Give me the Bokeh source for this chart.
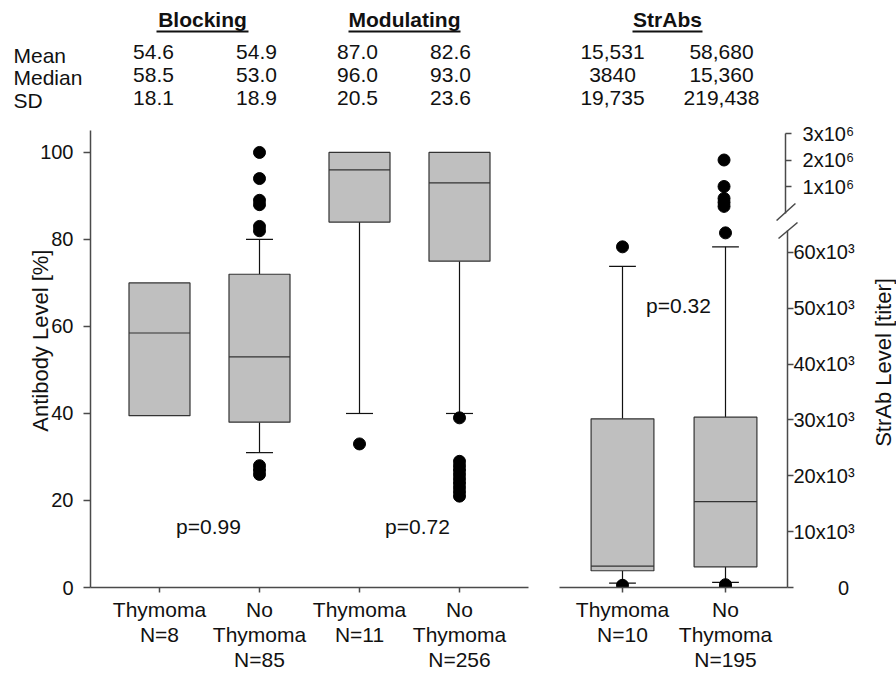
import math
from bokeh.plotting import figure
from bokeh.layouts import row, column
from bokeh.models import FixedTicker, Range1d
from bokeh.core.properties import value
from bokeh.embed import file_html
from bokeh.resources import INLINE

FONT = "Liberation Sans"
TEXT = "#111111"
AXIS = "#4a4a4a"
BOX_FILL = "#bfbfbf"
BOX_LINE = "#333333"

# ---------------- data ----------------
ab_labels = ["Thymoma\nN=8", "No\nThymoma\nN=85", "Thymoma\nN=11", "No\nThymoma\nN=256"]
ab_q1 = [39.5, 38.0, 84.0, 75.0]
ab_median = [58.5, 53.0, 96.0, 93.0]
ab_q3 = [70.0, 72.0, 100.0, 100.0]
ab_whisker_low = [None, 31.0, 40.0, 40.0]
ab_whisker_high = [None, 80.0, None, None]
ab_outlier_group = [2, 2, 2, 2, 2, 2, 2, 2, 2, 3, 4, 4, 4, 4, 4, 4, 4, 4, 4, 4]
ab_outlier_value = [100, 94, 89, 88, 83, 82, 28, 27, 26, 33,
                    39, 29, 28, 27, 26, 25, 24, 23, 22, 21]

sa_labels = ["Thymoma\nN=10", "No\nThymoma\nN=195"]
sa_q1 = [3000, 3700]
sa_median = [3840, 15360]
sa_q3 = [30200, 30500]
sa_whisker_low = [800, 900]
sa_whisker_high = [57500, 61000]
sa_outlier_group = [1, 1, 2, 2, 2]
sa_outlier_value = [61000, 400, 63500, 500, 200]
sa_high_outlier_group = [2, 2, 2, 2, 2]
sa_high_outlier_value = [2.0e6, 1.0e6, 0.55e6, 0.4e6, 0.25e6]

ab_ticks = [0, 20, 40, 60, 80, 100]
sa_low_ticks = [0, 10000, 20000, 30000, 40000, 50000, 60000]
sa_low_tick_labels = ["\u2007\u2007\u2007\u20070", "10x10\u00b3", "20x10\u00b3", "30x10\u00b3",
                      "40x10\u00b3", "50x10\u00b3", "60x10\u00b3"]
sa_high_ticks = [1e6, 2e6, 3e6]
sa_high_tick_labels = ["\u20071x10\u2076", "\u20072x10\u2076", "\u20073x10\u2076"]

stat_rows = ["Mean", "Median", "SD"]
blocking_stats = [["54.6", "58.5", "18.1"], ["54.9", "53.0", "18.9"]]
modulating_stats = [["87.0", "96.0", "20.5"], ["82.6", "93.0", "23.6"]]
strabs_stats = [["15,531", "3840", "19,735"], ["58,680", "15,360", "219,438"]]
panel_titles = ["Blocking", "Modulating", "StrAbs"]
p_values = ["p=0.99", "p=0.72", "p=0.32"]
axis_titles = ["Antibody Level [%]", "StrAb Level [titer]"]

# ---------------- layout helpers (page pixel -> data units) ----------------
BOTTOM = 588   # page y of the x axes

def lx(px): return (px - 159) / 100 + 1             # left panel x
def ly(py): return (BOTTOM - py) / 4.36             # left panel y
def rx(px): return (px - 622) / 103 + 1             # right panel x
def rty(py): return (212.5 - py) / 26.5 * 1e6       # right upper segment y
def rby(py): return (BOTTOM - py) / 5.6 * 1000      # right lower segment y

LABEL_ROW_Y = [55, 77, 100]
VALUE_ROW_Y = [51, 74, 97]
TITLE_Y = 19
UNDERLINE_Y = 31


def style_axis(ax, size="20px"):
    ax.axis_line_color = AXIS
    ax.axis_line_width = 1.5
    ax.major_tick_line_color = AXIS
    ax.major_tick_line_width = 1.5
    ax.minor_tick_line_color = None
    ax.major_label_text_font = FONT
    ax.major_label_text_font_size = size
    ax.major_label_text_color = TEXT


def clean(p):
    p.xgrid.visible = False
    p.ygrid.visible = False
    p.outline_line_color = None
    p.background_fill_color = "white"
    p.border_fill_color = "white"
    p.frame_align = False


def texts(p, xs, ys, words, size="21px", bold=False, align="center", angle=0.0):
    p.text(x=xs, y=ys, text=words, text_font=value(FONT), text_font_size=size,
           text_font_style="bold" if bold else "normal", text_color=TEXT,
           text_align=align, text_baseline="middle", angle=angle)


def boxes(p, xs, q1, med, q3, wlo, whi, bw, cw):
    for x, a, lo in zip(xs, q1, wlo):
        if lo is not None:
            p.segment(x0=[x], x1=[x], y0=[a], y1=[lo], line_color=TEXT, line_width=1.2)
            p.segment(x0=[x - cw / 2], x1=[x + cw / 2], y0=[lo], y1=[lo], line_color=TEXT, line_width=1.2)
    for x, b, hi in zip(xs, q3, whi):
        if hi is not None:
            p.segment(x0=[x], x1=[x], y0=[b], y1=[hi], line_color=TEXT, line_width=1.2)
            p.segment(x0=[x - cw / 2], x1=[x + cw / 2], y0=[hi], y1=[hi], line_color=TEXT, line_width=1.2)
    p.vbar(x=xs, width=bw, bottom=q1, top=q3, fill_color=BOX_FILL, line_color=BOX_LINE, line_width=1.2)
    p.segment(x0=[x - bw / 2 for x in xs], x1=[x + bw / 2 for x in xs], y0=med, y1=med,
              line_color=BOX_LINE, line_width=1.2)


def bare(width, height, xr, yr):
    p = figure(width=width, height=height, x_range=xr, y_range=yr,
               x_axis_location=None, y_axis_location=None,
               output_backend="svg", toolbar_location=None,
               min_border_left=0, min_border_right=0, min_border_top=0, min_border_bottom=0)
    clean(p)
    return p


# ---------------- header over the left panel ----------------
lhead = bare(543, 120, Range1d(lx(0), lx(543)), Range1d(120, 0))
texts(lhead, [lx(202), lx(404)], [TITLE_Y, TITLE_Y], panel_titles[:2], bold=True)
lhead.segment(x0=[lx(156), lx(348)], x1=[lx(248), lx(460)], y0=[UNDERLINE_Y] * 2, y1=[UNDERLINE_Y] * 2,
              line_color=TEXT, line_width=2)
texts(lhead, [lx(13)] * 3, LABEL_ROW_Y, stat_rows, align="left")
for col_px, stats in zip([153, 256, 357, 450], blocking_stats + modulating_stats):
    texts(lhead, [lx(col_px)] * 3, VALUE_ROW_Y, stats)

# ---------------- left panel ----------------
left = figure(width=543, height=554, x_range=Range1d(lx(90), lx(528)), y_range=Range1d(0, ly(130)),
              output_backend="svg", toolbar_location=None,
              min_border_left=90, min_border_right=15, min_border_top=10, min_border_bottom=83)
clean(left)
ab_x = [1, 2, 3, 4]
boxes(left, ab_x, ab_q1, ab_median, ab_q3, ab_whisker_low, ab_whisker_high, 0.61, 0.27)
left.scatter(x=ab_outlier_group, y=ab_outlier_value, size=12, color="black")
texts(left, [lx(208), lx(417)], [ly(527), ly(527)], p_values[:2])

yax = left.yaxis[0]
style_axis(yax)
yax.ticker = FixedTicker(ticks=ab_ticks)
yax.bounds = (0, 105)
yax.major_tick_out = 7
yax.major_tick_in = 0
yax.major_label_standoff = 10
yax.axis_label = "\u2007\u2007\u2007" + axis_titles[0]
yax.axis_label_text_font = FONT
yax.axis_label_text_font_size = "22px"
yax.axis_label_text_font_style = "normal"
yax.axis_label_text_color = TEXT
yax.axis_label_standoff = -16

xax = left.xaxis[0]
style_axis(xax, "21px")
xax.ticker = FixedTicker(ticks=ab_x)
xax.major_label_overrides = {x: t for x, t in zip(ab_x, ab_labels)}
xax.major_label_text_line_height = 1.1
xax.major_tick_out = 5
xax.major_tick_in = 0
xax.major_label_standoff = 5

# ---------------- right panel ----------------
rxr = Range1d(rx(559), rx(787))
rhead = bare(314, 110, Range1d(rx(543), rx(857)), Range1d(110, 0))
texts(rhead, [rx(667)], [TITLE_Y], panel_titles[2:], bold=True)
rhead.segment(x0=[rx(632)], x1=[rx(702)], y0=[UNDERLINE_Y], y1=[UNDERLINE_Y], line_color=TEXT, line_width=2)
for col_px, stats in zip([612, 721], strabs_stats):
    texts(rhead, [rx(col_px)] * 3, VALUE_ROW_Y, stats)

rtop = figure(width=314, height=111, x_range=rxr, y_range=Range1d(rty(221), rty(125)),
              x_axis_location=None, y_axis_location="right",
              output_backend="svg", toolbar_location=None,
              min_border_left=16, min_border_right=70, min_border_top=15, min_border_bottom=0)
clean(rtop)
rbot = figure(width=314, height=453, x_range=rxr, y_range=Range1d(0, rby(221)),
              y_axis_location="right",
              output_backend="svg", toolbar_location=None,
              min_border_left=16, min_border_right=70, min_border_top=0, min_border_bottom=83)
clean(rbot)

sa_x = [1, 2]
boxes(rbot, sa_x, sa_q1, sa_median, sa_q3, sa_whisker_low, sa_whisker_high, 0.61, 0.26)
rbot.scatter(x=sa_outlier_group, y=sa_outlier_value, size=12, color="black")
rtop.scatter(x=sa_high_outlier_group, y=sa_high_outlier_value, size=12, color="black")
texts(rbot, [rx(678)], [rby(305)], p_values[2:])

ay = rbot.yaxis[0]
style_axis(ay)
ay.ticker = FixedTicker(ticks=sa_low_ticks)
ay.major_label_overrides = {t: s for t, s in zip(sa_low_ticks, sa_low_tick_labels)}
ay.bounds = (0, 64000)
ay.major_tick_out = 6
ay.major_tick_in = 0
ay.major_label_standoff = 0

ay2 = rtop.yaxis[0]
style_axis(ay2)
ay2.ticker = FixedTicker(ticks=sa_high_ticks)
ay2.major_label_overrides = {t: s for t, s in zip(sa_high_ticks, sa_high_tick_labels)}
ay2.bounds = (0, 3e6)
ay2.major_tick_out = 6
ay2.major_tick_in = 0
ay2.major_label_standoff = 0

ax2 = rbot.xaxis[0]
style_axis(ax2, "21px")
ax2.ticker = FixedTicker(ticks=sa_x)
ax2.major_label_overrides = {x: t for x, t in zip(sa_x, sa_labels)}
ax2.major_label_text_line_height = 1.1
ax2.major_tick_out = 5
ax2.major_tick_in = 0
ax2.major_label_standoff = 5

# axis break marks
s1 = rtop.segment(x0=[rx(778)], y0=[rty(220)], x1=[rx(797)], y1=[rty(203)], line_color=AXIS, line_width=1.5)
s1.level = "overlay"
s2 = rbot.segment(x0=[rx(778)], y0=[rby(238)], x1=[rx(797)], y1=[rby(222)], line_color=AXIS, line_width=1.5)
s2.level = "overlay"

# right axis title in its own strip
rlab = bare(39, 674, Range1d(857, 896), Range1d(674, 0))
texts(rlab, [883], [362], axis_titles[1:], size="22px", angle=math.pi / 2)

layout = row(column(lhead, left, spacing=0),
             column(rhead, rtop, rbot, spacing=0),
             rlab, spacing=0)
open("out.html", "w").write(file_html(layout, INLINE))
